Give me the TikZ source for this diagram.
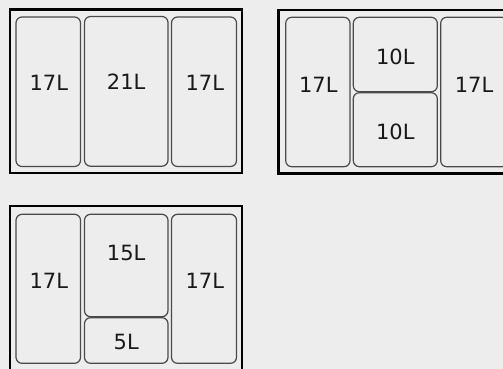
\documentclass[tikz,border=0pt]{standalone}
\usepackage{fontspec}
\setmainfont{DejaVu Sans}
\usepackage{xcolor}
\definecolor{panelbg}{HTML}{ECEDEC}
\definecolor{binline}{HTML}{4A4A4A}

\begin{document}
\begin{tikzpicture}[x=1pt, y=-1pt,
    frame/.style={draw=black, line width=2.2pt},
    bin/.style={draw=binline, line width=1.2pt, rounded corners=6pt},
    vol/.style={font=\fontsize{21}{25}\selectfont, inner sep=0pt, text=black!90}]
  % 1 unit = 1 px of the 503 x 369 sheet, y downwards
  \fill[panelbg] (0,0) rectangle (503,369);
  \useasboundingbox (0,0) rectangle (503,369);
  \clip (0,0) rectangle (503,369);
  % set 1: 17 + 21 + 17
  \draw[frame] (10,9.5) rectangle (241.7,173.2);
  \draw[bin] (16,17) rectangle (80.5,166.5);
  \draw[bin] (84.5,16.5) rectangle (168,166.2);
  \draw[bin] (171.5,17) rectangle (236.5,166.5);
  \node[vol] (aleft)  at (48.8,83) {17L};
  \node[vol] (amid)   at (126.2,82) {21L};
  \node[vol] (aright) at (204.8,83) {17L};
  % set 2: 17 + 10/10 + 17
  \draw[frame] (278.5,10) rectangle (515,173.5);
  \draw[bin] (285.7,17.3) rectangle (350,166.7);
  \draw[bin] (353.3,17.3) rectangle (437.3,91.7);
  \draw[bin] (353.3,92.7) rectangle (437.3,166.7);
  \draw[bin] (440.7,17.3) rectangle (508,166.7);
  \node[vol] (bleft)  at (318.3,85) {17L};
  \node[vol] (btop)   at (395.3,57) {10L};
  \node[vol] (bbot)   at (395.3,132) {10L};
  \node[vol] (bright) at (474,85) {17L};
  % set 3: 17 + 15/5 + 17
  \draw[frame] (10,206) rectangle (241.7,371);
  \draw[bin] (16,214.3) rectangle (80.5,363.3);
  \draw[bin] (84.5,214.3) rectangle (168,316.7);
  \draw[bin] (84.5,317.7) rectangle (168,363.3);
  \draw[bin] (171.5,214.3) rectangle (236.5,363.3);
  \node[vol] (cleft)  at (48.8,280.7) {17L};
  \node[vol] (ctop)   at (126.2,253.3) {15L};
  \node[vol] (cbot)   at (126.2,342.3) {5L};
  \node[vol] (cright) at (204.8,280.7) {17L};
\end{tikzpicture}
\end{document}
